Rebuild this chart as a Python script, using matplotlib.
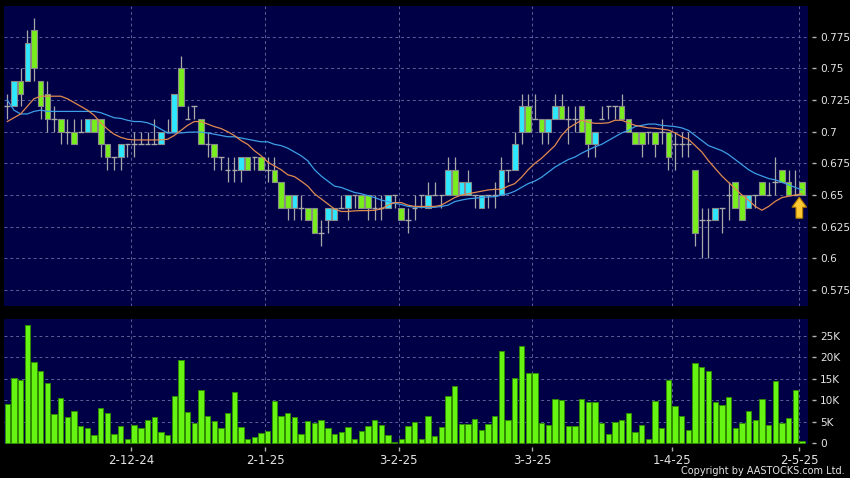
import matplotlib
matplotlib.use("Agg")
import matplotlib.pyplot as plt
from matplotlib.patches import FancyArrow
from matplotlib.ticker import FuncFormatter
import numpy as np

# ---------------- data ----------------
opens = [0.72,0.72,0.74,0.74,0.78,0.74,0.73,0.71,0.71,0.70,
         0.70,0.70,0.70,0.71,0.71,0.69,0.68,0.68,0.69,0.69,
         0.69,0.69,0.69,0.69,0.70,0.70,0.75,0.71,0.72,0.71,
         0.69,0.69,0.68,0.67,0.67,0.67,0.68,0.68,0.68,0.67,
         0.67,0.66,0.65,0.64,0.64,0.64,0.64,0.62,0.63,0.63,
         0.64,0.64,0.65,0.65,0.65,0.64,0.64,0.64,0.65,0.64,
         0.63,0.64,0.65,0.64,0.65,0.65,0.65,0.67,0.65,0.65,
         0.65,0.64,0.65,0.65,0.65,0.67,0.67,0.70,0.72,0.71,
         0.71,0.70,0.71,0.72,0.71,0.71,0.72,0.71,0.69,0.71,
         0.72,0.72,0.72,0.71,0.70,0.70,0.70,0.70,0.70,0.70,
         0.69,0.69,0.69,0.67,0.63,0.63,0.63,0.64,0.65,0.66,
         0.65,0.64,0.65,0.66,0.65,0.66,0.67,0.66,0.65,0.66]
highs = [0.73,0.74,0.75,0.78,0.79,0.74,0.74,0.72,0.71,0.71,
         0.71,0.71,0.71,0.71,0.71,0.69,0.68,0.69,0.69,0.70,
         0.70,0.70,0.71,0.70,0.71,0.73,0.76,0.72,0.72,0.71,
         0.70,0.69,0.68,0.68,0.68,0.68,0.68,0.68,0.68,0.68,
         0.68,0.66,0.65,0.65,0.65,0.64,0.64,0.63,0.64,0.64,
         0.65,0.65,0.65,0.65,0.65,0.65,0.65,0.65,0.65,0.64,
         0.64,0.65,0.65,0.66,0.66,0.65,0.68,0.68,0.66,0.67,
         0.65,0.65,0.65,0.66,0.68,0.67,0.70,0.73,0.73,0.73,
         0.71,0.71,0.73,0.73,0.72,0.72,0.72,0.71,0.70,0.72,
         0.72,0.72,0.73,0.71,0.70,0.70,0.70,0.70,0.71,0.70,
         0.70,0.70,0.70,0.67,0.64,0.64,0.64,0.64,0.66,0.66,
         0.65,0.65,0.65,0.66,0.66,0.68,0.67,0.67,0.67,0.66]
lows = [0.71,0.72,0.72,0.74,0.74,0.71,0.70,0.70,0.69,0.69,
        0.69,0.70,0.70,0.70,0.68,0.67,0.67,0.67,0.68,0.68,
        0.69,0.69,0.69,0.69,0.70,0.70,0.72,0.71,0.71,0.69,
        0.68,0.67,0.67,0.66,0.66,0.66,0.67,0.67,0.67,0.66,
        0.66,0.64,0.63,0.63,0.63,0.63,0.62,0.61,0.62,0.63,
        0.64,0.63,0.64,0.64,0.63,0.63,0.63,0.64,0.64,0.63,
        0.62,0.63,0.64,0.64,0.65,0.64,0.65,0.65,0.65,0.65,
        0.64,0.64,0.64,0.64,0.65,0.66,0.67,0.69,0.70,0.71,
        0.69,0.69,0.71,0.71,0.69,0.70,0.70,0.68,0.68,0.71,
        0.71,0.71,0.71,0.70,0.69,0.68,0.69,0.68,0.69,0.67,
        0.67,0.68,0.68,0.61,0.60,0.60,0.63,0.62,0.63,0.64,
        0.63,0.64,0.64,0.65,0.65,0.65,0.66,0.65,0.65,0.65]
closes = [0.72,0.74,0.73,0.77,0.75,0.72,0.71,0.71,0.70,0.70,
          0.69,0.70,0.71,0.70,0.69,0.68,0.68,0.69,0.69,0.69,
          0.69,0.69,0.69,0.70,0.70,0.73,0.72,0.71,0.72,0.69,
          0.69,0.68,0.68,0.67,0.67,0.68,0.67,0.68,0.67,0.67,
          0.66,0.64,0.64,0.65,0.64,0.63,0.62,0.62,0.64,0.64,
          0.64,0.65,0.65,0.64,0.64,0.64,0.64,0.65,0.65,0.63,
          0.63,0.64,0.65,0.65,0.65,0.65,0.67,0.65,0.66,0.66,
          0.65,0.65,0.65,0.65,0.67,0.67,0.69,0.72,0.70,0.71,
          0.70,0.71,0.72,0.71,0.71,0.71,0.70,0.69,0.70,0.71,
          0.72,0.72,0.71,0.70,0.69,0.69,0.70,0.69,0.70,0.68,
          0.69,0.69,0.69,0.62,0.63,0.63,0.64,0.64,0.65,0.64,
          0.63,0.65,0.65,0.65,0.65,0.66,0.66,0.65,0.65,0.65]
ma_short = [0.708,0.711,0.714,0.720,0.726,0.728,0.728,0.728,0.728,0.726,
            0.723,0.720,0.717,0.713,0.707,0.702,0.698,0.6955,0.694,0.6935,
            0.6935,0.6935,0.6935,0.6935,0.694,0.697,0.701,0.705,0.708,0.708,
            0.706,0.704,0.7025,0.700,0.697,0.693,0.690,0.685,0.681,0.676,
            0.673,0.670,0.666,0.6645,0.661,0.657,0.651,0.647,0.643,0.639,
            0.637,0.637,0.6375,0.6377,0.6377,0.638,0.639,0.642,0.644,0.644,
            0.642,0.641,0.641,0.641,0.641,0.642,0.645,0.648,0.650,0.651,
            0.652,0.653,0.654,0.6545,0.6545,0.657,0.659,0.664,0.670,0.675,
            0.679,0.684,0.689,0.697,0.7027,0.706,0.709,0.7075,0.7066,0.7066,
            0.707,0.709,0.709,0.707,0.705,0.704,0.703,0.7027,0.702,0.7013,
            0.699,0.696,0.694,0.689,0.684,0.677,0.671,0.665,0.660,0.655,
            0.650,0.646,0.641,0.638,0.641,0.645,0.648,0.649,0.650,0.651]
ma_long = [0.725,0.717,0.714,0.714,0.716,0.717,0.716,0.716,0.716,0.716,
           0.716,0.716,0.716,0.716,0.715,0.713,0.711,0.7105,0.709,0.708,
           0.708,0.707,0.705,0.702,0.699,0.699,0.699,0.6995,0.6997,0.6997,
           0.699,0.698,0.697,0.696,0.696,0.695,0.694,0.693,0.692,0.692,
           0.690,0.689,0.687,0.684,0.681,0.677,0.670,0.665,0.661,0.657,
           0.656,0.654,0.652,0.651,0.6495,0.648,0.646,0.6448,0.6435,0.6425,
           0.641,0.6405,0.6403,0.6403,0.6403,0.641,0.642,0.6448,0.646,0.647,
           0.6475,0.648,0.6485,0.6487,0.650,0.651,0.653,0.656,0.659,0.661,
           0.664,0.668,0.672,0.675,0.678,0.680,0.683,0.6856,0.688,0.690,
           0.693,0.696,0.699,0.701,0.704,0.705,0.706,0.706,0.705,0.7045,
           0.704,0.703,0.701,0.697,0.693,0.689,0.687,0.685,0.682,0.678,
           0.674,0.670,0.667,0.665,0.663,0.662,0.660,0.658,0.656,0.654]
volume = [9100,15100,14800,27600,18900,16800,14100,6800,10500,6100,
          7500,3900,3500,1900,8200,7100,2200,4000,1000,4300,
          3600,5400,6000,2600,1900,10900,19400,7200,4700,12400,
          6400,5200,3600,7000,11900,3700,1000,1500,2400,2800,
          9700,6200,6900,6100,2100,5100,4600,5400,3600,2000,
          2600,3800,900,2900,4000,5400,4300,1900,200,900,
          4000,5000,900,6400,1700,3700,10900,13200,4400,4400,
          5700,3100,4500,6400,21400,5400,15100,22700,16200,16300,
          4700,4300,10200,10100,4000,4000,10300,9600,9500,4600,
          2000,4800,5300,7100,2500,4300,1000,9700,3600,14600,
          8700,6400,3000,18600,17800,16700,9500,8800,10800,3500,
          4600,7400,5300,10300,4100,14400,4700,5800,12300,400]
date_labels = ["2-12-24", "2-1-25", "3-2-25", "3-3-25", "1-4-25", "2-5-25"]
date_idx = [19, 39, 59, 79, 100, 119]
price_ticks = [0.575, 0.6, 0.625, 0.65, 0.675, 0.7, 0.725, 0.75, 0.775]
vol_ticks = [0, 5000, 10000, 15000, 20000, 25000]

# ---------------- styles ----------------
BG = "#000046"
GRID = "#5a6296"
TXT = "#e4e4e4"
UP = "#2ee8ff"
DOWN = "#78ee1c"
WICK = "#a8a8a8"
EDGE = "#8a8a8a"
W, H = 850, 478

fig = plt.figure(figsize=(W / 100, H / 100), dpi=100, facecolor="black")
ax = fig.add_axes([4 / W, 1 - 306 / H, 804 / W, 300 / H], facecolor=BG)
axv = fig.add_axes([4 / W, 1 - 444 / H, 804 / W, 125 / H], facecolor=BG, sharex=ax)

o = np.array(opens); c = np.array(closes)
hi = np.array(highs); lo = np.array(lows)
x = np.arange(len(o))
bw = 0.84

# wicks
ax.vlines(x, lo, hi, color=WICK, lw=0.9, zorder=2)
# bodies
body = ~np.isclose(o, c)
cols = np.where(c > o, UP, DOWN)
ax.bar(x[body], np.abs(c - o)[body], bottom=np.minimum(o, c)[body], width=bw,
       color=cols[body], edgecolor=EDGE, linewidth=0.8, zorder=3)
# doji
dj = ~body
ax.hlines(c[dj], x[dj] - bw / 2, x[dj] + bw / 2, color=WICK, lw=1.0, zorder=3)
# moving averages
ax.plot(x, ma_long, color="#3d9fe6", lw=0.9, zorder=4)
ax.plot(x, ma_short, color="#e08a50", lw=0.9, zorder=5)

# arrow at last candle
last = len(x) - 1
tip = closes[-1] - 0.0017
ax.add_patch(FancyArrow(last - 0.4, tip - 0.0166, 0, 0.0166, width=1.0,
                        head_width=2.2, head_length=0.0079,
                        length_includes_head=True, facecolor="#ffc933",
                        edgecolor="#b07a00", linewidth=0.8, zorder=6))

# volume
axv.bar(x, volume, width=0.8, color="#66f512", edgecolor="#2f8a00",
        linewidth=0.7, zorder=3)

# axes settings
ax.set_xlim(-0.49, 119.9)
ax.set_ylim(0.5624, 0.7992)
axv.set_ylim(-230, 28900)

gx = [i - 0.4 for i in date_idx]
for a in (ax, axv):
    for s in a.spines.values():
        s.set_visible(False)
    a.set_axisbelow(True)
    a.yaxis.tick_right()
    a.spines["right"].set_position(("outward", 3))
    a.tick_params(axis="y", which="both", left=False, right=True, length=3,
                  width=1, color="#b0b0b0", pad=2.5, labelcolor=TXT,
                  labelsize=7.6)
    for g in gx:
        a.axvline(g, color=GRID, lw=0.7, ls=(0, (3, 3)), zorder=1)

ax.set_yticks(price_ticks)
ax.yaxis.set_major_formatter(FuncFormatter(lambda v, p: f"{v:g}"))
ax.grid(axis="y", color=GRID, lw=0.7, ls=(0, (3, 3)))
ax.tick_params(axis="x", bottom=False, labelbottom=False)

axv.set_yticks(vol_ticks)
axv.yaxis.set_major_formatter(
    FuncFormatter(lambda v, p: "0" if v == 0 else f"{int(v / 1000)}K"))
for v in vol_ticks[1:]:
    axv.axhline(v, color=GRID, lw=0.7, ls=(0, (3, 3)), zorder=1)
axv.set_xticks(gx)
axv.set_xticklabels(date_labels)
axv.spines["bottom"].set_position(("outward", 2))
axv.tick_params(axis="x", bottom=True, length=3, width=1, color="#b0b0b0",
                pad=2.5, labelcolor=TXT, labelsize=8.5)

fig.text(0.9935, 0.0136, "Copyright by AASTOCKS.com Ltd.", ha="right",
         va="center", color=TXT, fontsize=7)

fig.savefig("out.png", dpi=100, facecolor="black")
